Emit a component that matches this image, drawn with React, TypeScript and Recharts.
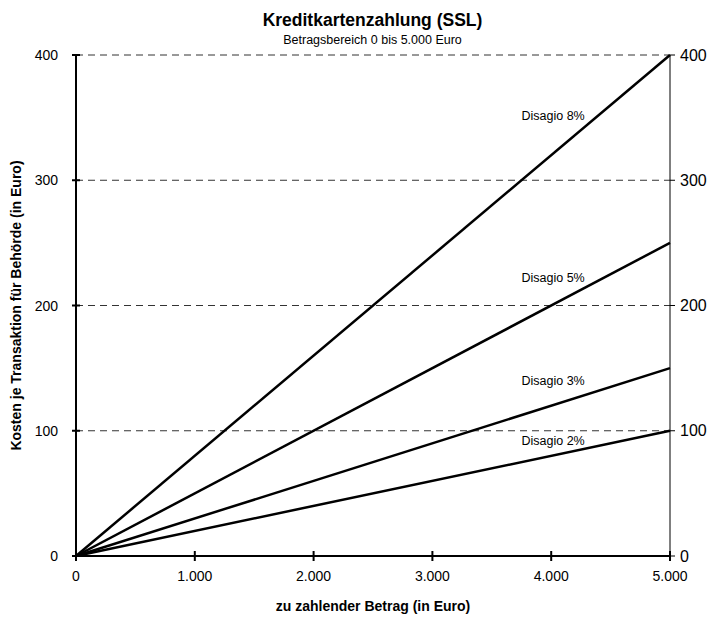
import React from "react";
import { LineChart, Line, XAxis, YAxis, CartesianGrid, ReferenceDot } from "recharts";

// Betrag in Euro (x) and Kosten je Transaktion for each Disagio rate
const amounts = [0, 5000];
const disagio8 = [0, 400];
const disagio5 = [0, 250];
const disagio3 = [0, 150];
const disagio2 = [0, 100];

const xTicks = [0, 1000, 2000, 3000, 4000, 5000];
const yTicks = [0, 100, 200, 300, 400];

const seriesLabels = ["Disagio 8%", "Disagio 5%", "Disagio 3%", "Disagio 2%"];
const labelX = [3750, 3750, 3750, 3750];
const labelY = [351, 222, 140, 92];

const FONT = "'Liberation Sans', Arial, sans-serif";

const chartData = amounts.map((a, i) => ({
  amount: a,
  d8: disagio8[i],
  d5: disagio5[i],
  d3: disagio3[i],
  d2: disagio2[i],
}));

const fmt = (v: number) => v.toLocaleString("de-DE");

function LeftTick(props: any) {
  const { x, y, payload } = props;
  return (
    <g>
      <line x1={x - 4} x2={x + 4} y1={y} y2={y} stroke="#000" strokeWidth={2} />
      <text x={x - 18} y={y} dy={5} textAnchor="end" fontSize={14} fill="#000" fontFamily={FONT}>
        {payload.value}
      </text>
    </g>
  );
}

function BottomTick(props: any) {
  const { x, y, payload } = props;
  return (
    <g>
      <line x1={x} x2={x} y1={y - 5} y2={y + 5} stroke="#000" strokeWidth={2} />
      <text x={x} y={y + 25} textAnchor="middle" fontSize={14} fill="#000" fontFamily={FONT}>
        {fmt(payload.value)}
      </text>
    </g>
  );
}

export default function App() {
  return (
    <div style={{ position: "absolute", left: 0, top: 0, width: 715, height: 619, fontFamily: FONT, background: "#fff" }}>
      <div style={{ position: "absolute", left: 0, width: 745, top: 10, textAlign: "center", fontSize: 17.5, fontWeight: "bold" }}>
        Kreditkartenzahlung (SSL)
      </div>
      <div style={{ position: "absolute", left: 0, width: 745, top: 33, textAlign: "center", fontSize: 12.5 }}>
        Betragsbereich 0 bis 5.000 Euro
      </div>
      <LineChart width={715} height={619} data={chartData} margin={{ top: 55, right: 0, bottom: 0, left: 0 }}>
        <CartesianGrid yAxisId="left" vertical={false} strokeDasharray="7 5" stroke="#333" />
        <XAxis
          dataKey="amount"
          type="number"
          domain={[0, 5000]}
          ticks={xTicks}
          height={63}
          axisLine={{ stroke: "#000", strokeWidth: 2 }}
          tickLine={false}
          tickSize={0}
          tickMargin={0}
          tick={<BottomTick />}
          label={{ value: "zu zahlender Betrag (in Euro)", position: "insideBottom", offset: 8, fontSize: 14, fontWeight: "bold", fill: "#000", fontFamily: FONT }}
        />
        <YAxis
          yAxisId="left"
          domain={[0, 400]}
          ticks={yTicks}
          width={76}
          axisLine={{ stroke: "#000", strokeWidth: 2 }}
          tickLine={false}
          tickSize={0}
          tickMargin={0}
          tick={<LeftTick />}
          label={{ value: "Kosten je Transaktion für Behörde (in Euro)", angle: -90, position: "insideLeft", offset: 16, style: { textAnchor: "middle" }, fontSize: 14, fontWeight: "bold", fill: "#000", fontFamily: FONT }}
        />
        <YAxis
          yAxisId="right"
          orientation="right"
          domain={[0, 400]}
          ticks={yTicks}
          width={45}
          axisLine={{ stroke: "#000", strokeWidth: 1 }}
          tickLine={{ stroke: "#000" }}
          tickSize={5}
          tickMargin={5}
          tick={{ fontSize: 16, fill: "#000", fontFamily: FONT }}
        />
        <Line yAxisId="right" dataKey="d8" stroke="#000" strokeWidth={2.5} dot={false} isAnimationActive={false} />
        <Line yAxisId="left" dataKey="d5" stroke="#000" strokeWidth={2.5} dot={false} isAnimationActive={false} />
        <Line yAxisId="left" dataKey="d3" stroke="#000" strokeWidth={2.5} dot={false} isAnimationActive={false} />
        <Line yAxisId="left" dataKey="d2" stroke="#000" strokeWidth={2.5} dot={false} isAnimationActive={false} />
        {seriesLabels.map((s, i) => (
          <ReferenceDot
            key={s}
            yAxisId="left"
            x={labelX[i]}
            y={labelY[i]}
            r={0}
            shape={(p: any) => (
              <text x={p.cx} y={p.cy} dy={4} fontSize={12.5} fill="#000" fontFamily={FONT}>
                {s}
              </text>
            )}
          />
        ))}
      </LineChart>
    </div>
  );
}
